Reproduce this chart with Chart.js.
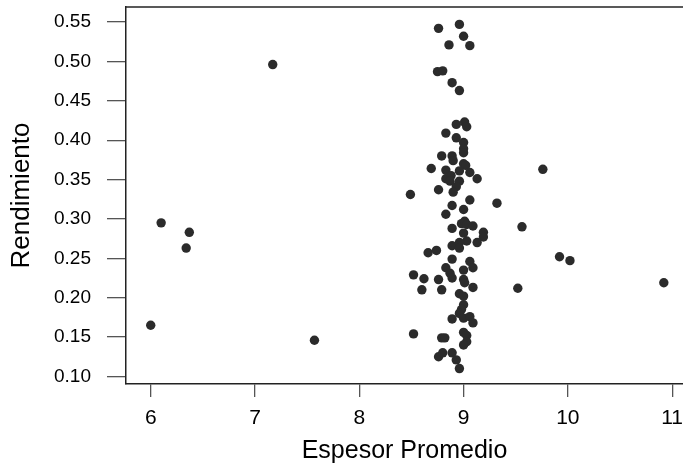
<!DOCTYPE html>
<html>
<head>
<meta charset="utf-8">
<script src="https://cdn.jsdelivr.net/npm/chart.js@4"></script>
<style>
    html, body { margin: 0; padding: 0; background: #fff; overflow: hidden; }
    #wrap { width: 683px; height: 464px; }
</style>
</head>
<body>
<div id="wrap"><canvas id="scatter-chart" width="683" height="464"></canvas></div>
<script>
// Espesor promedio vs rendimiento

const espesor = [
    8.76, 8.96, 9.00, 8.86, 9.06, 8.75, 8.80, 8.89, 8.96, 9.01,
    8.93, 9.03, 8.83, 8.93, 9.00, 9.00, 9.00, 8.79, 8.89, 8.90,
    9.00, 9.02, 8.69, 8.83, 8.96, 9.06, 9.13, 8.83, 8.88, 8.87,
    8.96, 8.93, 8.90, 8.76, 8.49, 9.06, 9.32, 8.89, 9.00, 8.83,
    8.98, 9.01, 9.03, 9.09, 8.89, 9.00, 9.19, 9.19, 9.13, 9.03,
    8.96, 8.89, 8.96, 8.66, 8.74, 9.56, 8.89, 9.06, 9.09, 8.83,
    9.00, 8.87, 8.89, 9.00, 9.01, 8.52, 8.62, 8.76, 9.09, 9.52,
    8.60, 8.79, 8.96, 9.00, 9.00, 8.98, 8.96, 8.89, 9.00, 9.06,
    9.09, 8.52, 8.79, 8.82, 9.00, 9.03, 9.03, 9.00, 8.76, 8.80,
    8.89, 8.93, 8.96,
    6.10, 6.37, 6.34, 6.00, 7.17, 7.57, 9.76, 9.92, 10.02, 10.92
];

const rendimiento = [
    0.542, 0.547, 0.532, 0.521, 0.520, 0.487, 0.488, 0.473, 0.463, 0.423,
    0.420, 0.417, 0.409, 0.403, 0.397, 0.389, 0.384, 0.380, 0.380, 0.374,
    0.370, 0.368, 0.364, 0.362, 0.361, 0.359, 0.351, 0.351, 0.355, 0.348,
    0.348, 0.341, 0.334, 0.337, 0.331, 0.324, 0.320, 0.317, 0.312, 0.306,
    0.294, 0.297, 0.293, 0.291, 0.288, 0.282, 0.283, 0.277, 0.270, 0.272,
    0.270, 0.266, 0.263, 0.257, 0.260, 0.290, 0.249, 0.246, 0.238, 0.238,
    0.235, 0.231, 0.225, 0.223, 0.219, 0.229, 0.224, 0.223, 0.213, 0.212,
    0.210, 0.210, 0.205, 0.202, 0.191, 0.185, 0.180, 0.173, 0.174, 0.176,
    0.168, 0.154, 0.149, 0.149, 0.156, 0.152, 0.144, 0.140, 0.125, 0.130,
    0.130, 0.121, 0.110,
    0.295, 0.283, 0.263, 0.165, 0.496, 0.146, 0.363, 0.252, 0.247, 0.219
];

const xTickValues = [6, 7, 8, 9, 10, 11];
const yTickValues = [0.10, 0.15, 0.20, 0.25, 0.30, 0.35, 0.40, 0.45, 0.50, 0.55];

const points = espesor.map((x, i) => ({ x: x, y: rendimiento[i] }));

const fontFamily = 'Liberation Sans, Arial, sans-serif';

// scales shouldn't reserve extra room for their end labels
function noEdgePadding(scale) {
    scale.paddingTop = 0;
    scale.paddingBottom = 0;
    scale.paddingLeft = 0;
    scale.paddingRight = 0;
}

// top edge of the frame (left and bottom come from the axis borders)
const frameTop = {
    id: 'frameTop',
    afterDraw(chart) {
        const a = chart.chartArea;
        const ctx = chart.ctx;
        ctx.save();
        ctx.strokeStyle = '#222';
        ctx.lineWidth = 1.5;
        ctx.beginPath();
        ctx.moveTo(a.left, a.top);
        ctx.lineTo(chart.width, a.top);
        ctx.stroke();
        ctx.restore();
    }
};

const ctx = document.getElementById('scatter-chart').getContext('2d');
new Chart(ctx, {
    type: 'scatter',
    data: {
        datasets: [{
            data: points,
            backgroundColor: '#2b2b2b',
            borderColor: '#2b2b2b',
            borderWidth: 0,
            pointRadius: 4.7
        }]
    },
    options: {
        responsive: false,
        animation: false,
        layout: {
            autoPadding: false,
            padding: { top: 7, right: 0, bottom: 0, left: 0 }
        },
        plugins: {
            legend: { display: false },
            tooltip: { enabled: false }
        },
        scales: {
            x: {
                type: 'linear',
                min: 5.763,
                max: 11.104,
                afterFit: function(scale) {
                    scale.height = 80;
                    noEdgePadding(scale);
                },
                afterBuildTicks: function(scale) {
                    scale.ticks = xTickValues.map(v => ({ value: v }));
                },
                grid: {
                    drawOnChartArea: false,
                    drawTicks: true,
                    tickLength: 13,
                    color: '#555',
                    lineWidth: 1.3
                },
                border: { display: true, color: '#222', width: 1.5 },
                ticks: {
                    color: '#000',
                    padding: 9,
                    maxRotation: 0,
                    font: { family: fontFamily, size: 21 },
                    callback: function(value) { return value; }
                },
                title: {
                    display: true,
                    text: 'Espesor Promedio',
                    color: '#000',
                    padding: { top: 0, bottom: -2 },
                    font: { family: fontFamily, size: 25, lineHeight: 1.2 }
                }
            },
            y: {
                type: 'linear',
                min: 0.0904,
                max: 0.5691,
                afterFit: function(scale) {
                    scale.width = 126;
                    noEdgePadding(scale);
                },
                afterBuildTicks: function(scale) {
                    scale.ticks = yTickValues.map(v => ({ value: v }));
                },
                grid: {
                    drawOnChartArea: false,
                    drawTicks: true,
                    tickLength: 19,
                    color: '#555',
                    lineWidth: 1.3
                },
                border: { display: true, color: '#222', width: 1.5 },
                ticks: {
                    color: '#000',
                    padding: 16,
                    font: { family: fontFamily, size: 19 },
                    callback: function(value) { return value.toFixed(2); }
                },
                title: {
                    display: true,
                    text: 'Rendimiento',
                    color: '#000',
                    padding: { top: 6, bottom: 0 },
                    font: { family: fontFamily, size: 26, lineHeight: 1.2 }
                }
            }
        }
    },
    plugins: [frameTop]
});
</script>
</body>
</html>
